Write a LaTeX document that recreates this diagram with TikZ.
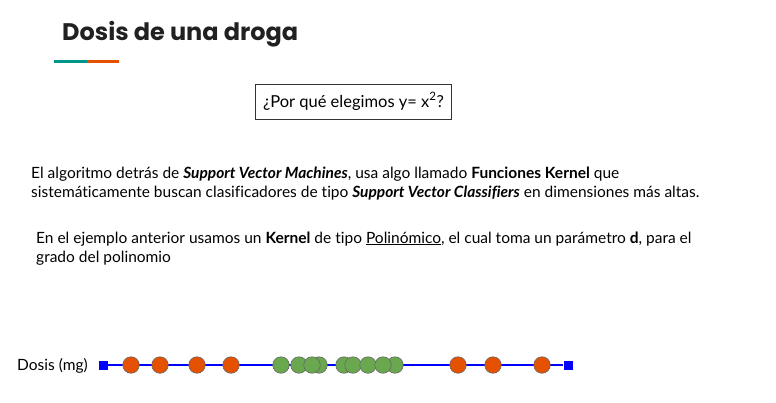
\documentclass[tikz,border=0pt]{standalone}
\usepackage{fontspec}
\setmainfont[Ligatures=NoCommon]{Lato}
\newfontfamily\titlefont{Poppins}
\definecolor{teal1}{RGB}{0,150,136}
\definecolor{orng}{RGB}{230,81,0}
\definecolor{grn}{RGB}{106,168,79}
\definecolor{txt}{RGB}{33,33,33}
\tikzset{
  body/.style={inner sep=0pt, anchor=base west, font=\fontsize{15.5}{19}\selectfont, text=black},
  odot/.style={circle, draw=black!60, line width=0.6pt, fill=orng, minimum size=16.5pt, inner sep=0pt},
  gdot/.style={circle, draw=black!60, line width=0.6pt, fill=grn, minimum size=16.5pt, inner sep=0pt},
  endsq/.style={rectangle, fill=blue, minimum size=9pt, inner sep=0pt},
}
\begin{document}
\begin{tikzpicture}[x=1pt,y=-1pt]
\useasboundingbox (0,0) rectangle (776,402);
% title
\node[inner sep=0pt, anchor=base west, font=\titlefont\bfseries\fontsize{24}{26}\selectfont, text=txt] (title) at (62,40) {Dosis de una droga};
\fill[teal1] (54,59.5) rectangle (87,62.5);
\fill[orng] (87,59.5) rectangle (119,62.5);
% question box
\node[draw=black!80, line width=0.8pt, minimum width=196pt, minimum height=35pt, inner sep=0pt] (q) at (353,101.5) {};
\node[inner sep=0pt, anchor=base west, font=\fontsize{16.5}{17}\selectfont] (qt) at (263,107) {¿Por qué elegimos y= x\textsuperscript{2}?};
% paragraph 1
\node[body] (p1a) at (31,178) {El algoritmo detrás de \textbf{\textit{Support Vector Machines}}, usa algo llamado \textbf{Funciones Kernel} que};
\node[body] (p1b) at (31,197) {sistemáticamente buscan clasificadores de tipo \textbf{\textit{Support Vector Classifiers}} en dimensiones más altas.};
% paragraph 2
\node[body] (p2a) at (36,243) {En el ejemplo anterior usamos un \textbf{Kernel} de tipo \underline{Polinómico}, el cual toma un parámetro \textbf{d}, para el};
\node[body] (p2b) at (36,262) {grado del polinomio};
% axis
\node[body] (lbl) at (17,370.5) {Dosis (mg)};
\node[endsq] (L) at (103,365) {};
\node[endsq] (R) at (568,365) {};
\draw[blue, line width=1.8pt] (L) -- (R);
\foreach \x [count=\i] in {131,160,197,231,458,493,542}
  \node[odot] (o\i) at (\x,365) {};
\foreach \x [count=\i] in {281,299,319,312,344,353,368,395,383}
  \node[gdot] (g\i) at (\x,365) {};
\end{tikzpicture}
\end{document}
